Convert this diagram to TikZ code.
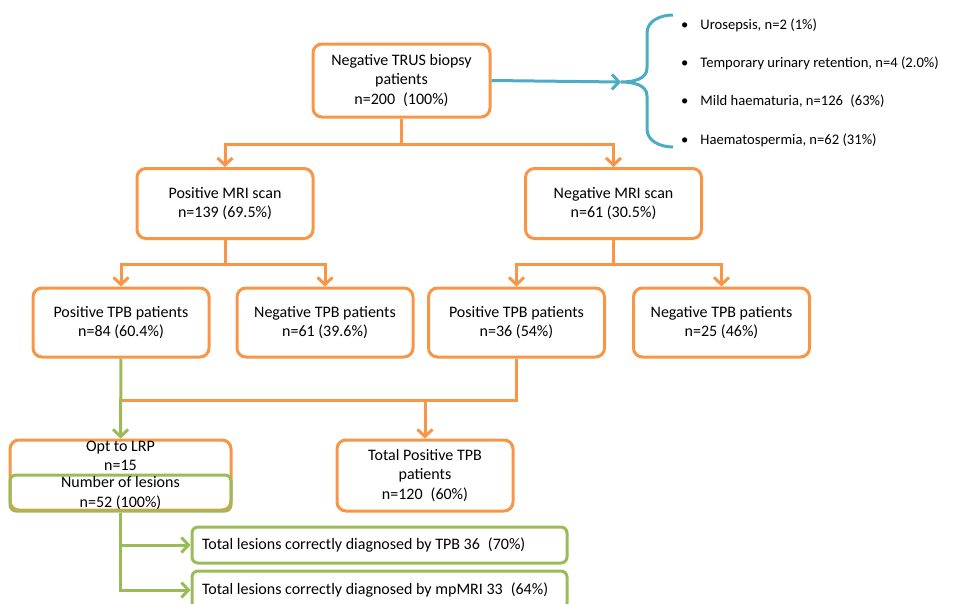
\documentclass[tikz,border=0pt]{standalone}
\usepackage{fontspec}
\setmainfont{Carlito}
\usepackage{tikz}
\usetikzlibrary{positioning, shapes, arrows.meta}

\definecolor{boxorange}{HTML}{F79646}
\definecolor{boxgreen}{HTML}{9BBB59}
\definecolor{bracecyan}{HTML}{4BACC6}

\tikzset{
  orangebox/.style={draw=boxorange, line width=3pt, rounded corners=9pt, align=center, minimum width=176pt, minimum height=70pt, inner sep=2pt},
  greenbox/.style={draw=boxgreen, line width=3pt, rounded corners=6pt, minimum height=36pt},
  plain/.style={align=center, inner sep=0pt},
  small/.style={font=\fontsize{14.6}{18}\selectfont},
  flowline/.style={draw=boxorange, line width=3pt},
  flow/.style={flowline, -{Straight Barb[length=7pt,width=15pt]}},
  greenflow/.style={draw=boxgreen, line width=3pt, -{Straight Barb[length=7pt,width=15pt]}},
  blueflow/.style={draw=bracecyan, line width=3pt, -{Straight Barb[length=7pt,width=15pt]}},
}

\begin{document}
\begin{tikzpicture}[x=1pt, y=-1pt, font=\fontsize{16}{19.5}\selectfont, text=black]
                \clip (0,0) rectangle (970,603);
                % first level
                \node[orangebox, minimum width=177pt, minimum height=73pt] (trus) at (401.5,80.5) {Negative TRUS biopsy\\patients\\n=200\enspace(100\%)};
                \node[orangebox] (posmri) at (225,203.5) {Positive MRI scan\\n=139 (69.5\%)};
                \node[orangebox] (negmri) at (613.5,203.5) {Negative MRI scan\\n=61 (30.5\%)};
                % TPB results
                \node[orangebox, minimum height=69pt] (postpbA) at (121,322.5) {Positive TPB patients\\n=84 (60.4\%)};
                \node[orangebox, minimum height=69pt] (negtpbA) at (325,322.5) {Negative TPB patients\\n=61 (39.6\%)};
                \node[orangebox, minimum height=69pt] (postpbB) at (516.5,322.5) {Positive TPB patients\\n=36 (54\%)};
                \node[orangebox, minimum height=69pt] (negtpbB) at (721.5,322.5) {Negative TPB patients\\n=25 (46\%)};
                % bottom row
                \node[orangebox, minimum width=221pt] (lrp) at (120.5,475) {};
                \node[plain] (lrptext) at (120.5,456) {Opt to LRP\\n=15};
                \node[greenbox, minimum width=221pt, align=center, inner sep=0pt] (lesions) at (120.5,493) {Number of lesions\\n=52 (100\%)};
                \node[orangebox, minimum height=71pt] (total) at (425,475.5) {Total Positive TPB\\patients\\n=120\enspace(60\%)};
                \node[greenbox, text width=355pt, inner xsep=10pt, align=flush left] (tpbdiag) at (379.5,545) {Total lesions correctly diagnosed by TPB 36\enspace(70\%)};
                \node[greenbox, text width=355pt, inner xsep=10pt, align=flush left, minimum height=38pt] (mridiag) at (379.5,590) {Total lesions correctly diagnosed by mpMRI 33\enspace(64\%)};
                % complications
                \coordinate (bracetip) at (621,82);
                \draw[draw=bracecyan, line width=3pt] (673,15) to[out=180,in=90] (647,33) -- (647,68) to[out=-90,in=0] (bracetip) to[out=0,in=90] (647,96) -- (647,129) to[out=-90,in=180] (673,147);
                \node[small, anchor=west, inner sep=0pt] (itemA) at (681,25) {•\hspace{12pt}Urosepsis, n=2 (1\%)};
                \node[small, anchor=west, inner sep=0pt] (itemB) at (681,63) {•\hspace{12pt}Temporary urinary retention, n=4 (2.0\%)};
                \node[small, anchor=west, inner sep=0pt] (itemC) at (681,101.5) {•\hspace{12pt}Mild haematuria, n=126\enspace(63\%)};
                \node[small, anchor=west, inner sep=0pt] (itemD) at (681,140) {•\hspace{12pt}Haematospermia, n=62 (31\%)};
                \draw[blueflow] (trus.east) -- (bracetip);
                % connectors
                \draw[flowline] (trus.south) -- ++(0,26) coordinate (splitA);
                \draw[flow] (splitA) -| (posmri.north);
                \draw[flow] (splitA) -| (negmri.north);
                \draw[flowline] (posmri.south) -- ++(0,24) coordinate (splitB);
                \draw[flow] (splitB) -| (postpbA.north);
                \draw[flow] (splitB) -| (negtpbA.north);
                \draw[flowline] (negmri.south) -- ++(0,24) coordinate (splitC);
                \draw[flow] (splitC) -| (postpbB.north);
                \draw[flow] (splitC) -| (negtpbB.north);
                \coordinate (merge) at (121,400);
                \draw[flowline] (postpbB.south) |- (merge);
                \draw[flow] (total.north |- merge) -- (total.north);
                \draw[greenflow] (postpbA.south) -- (lrp.north);
                \draw[greenflow] (lesions.south) |- (tpbdiag.west);
                \draw[greenflow] (lesions.south) |- (mridiag.west);
            \end{tikzpicture}
\end{document}
